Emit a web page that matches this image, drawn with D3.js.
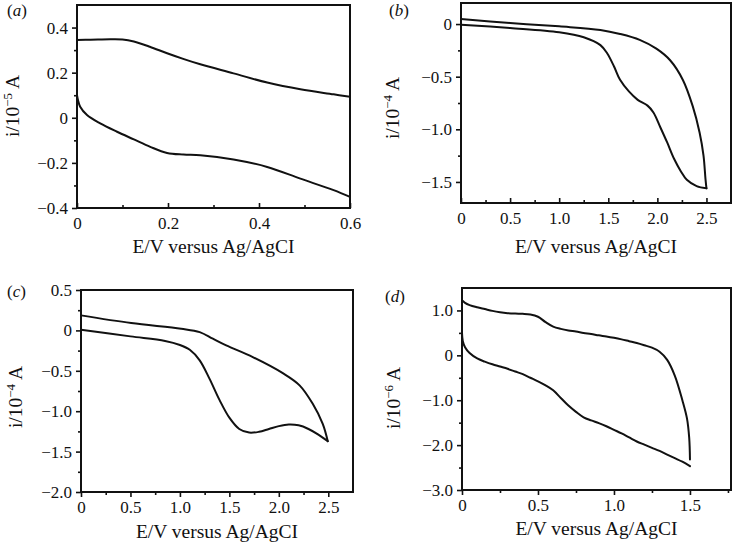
<!DOCTYPE html>
<html>
<head>
<meta charset="utf-8">
<script src="https://cdn.jsdelivr.net/npm/d3@7"></script>
<style>
  html, body { margin: 0; padding: 0; background: #fff; }
  svg { display: block; }
  text { font-family: "Liberation Serif", "Times New Roman", Times, serif; fill: #111; }
</style>
</head>
<body>
<svg id="chart" width="737" height="543"></svg>
<script>
// ---------- DATA ----------
// Panel (a)  i / 10^-5 A
const aUpperX = [0, 0.03, 0.073, 0.1, 0.125, 0.16, 0.198, 0.235, 0.271, 0.344, 0.418, 0.491, 0.564, 0.6];
const aUpperY = [0.345, 0.346, 0.348, 0.347, 0.338, 0.315, 0.286, 0.26, 0.237, 0.197, 0.156, 0.126, 0.104, 0.093];
const aLowerX = [0, 0.002, 0.007, 0.022, 0.051, 0.088, 0.125, 0.161, 0.198, 0.234, 0.271, 0.344, 0.418, 0.491, 0.564, 0.6];
const aLowerY = [0.1, 0.08, 0.049, 0.012, -0.025, -0.062, -0.096, -0.129, -0.156, -0.163, -0.166, -0.185, -0.218, -0.27, -0.321, -0.351];

// Panel (b)  i / 10^-4 A
const bUpperX = [0, 0.5, 1.0, 1.42, 1.62, 1.82, 1.99, 2.13, 2.26, 2.36, 2.43, 2.47, 2.49, 2.5];
const bUpperY = [0.047, 0.01, -0.022, -0.056, -0.094, -0.15, -0.234, -0.344, -0.531, -0.78, -1.03, -1.25, -1.47, -1.56];
const bLowerX = [0, 0.5, 1.0, 1.25, 1.42, 1.49, 1.56, 1.62, 1.71, 1.8, 1.9, 1.96, 2.03, 2.1, 2.17, 2.24, 2.3, 2.4, 2.5];
const bLowerY = [-0.006, -0.038, -0.078, -0.125, -0.2, -0.28, -0.406, -0.53, -0.64, -0.72, -0.775, -0.84, -0.98, -1.125, -1.28, -1.4, -1.48, -1.54, -1.56];

// Panel (c)  i / 10^-4 A
const cUpperX = [0, 0.508, 1.013, 1.2, 1.333, 1.468, 1.737, 2.04, 2.21, 2.343, 2.444, 2.495];
const cUpperY = [0.186, 0.091, 0.021, -0.021, -0.103, -0.186, -0.33, -0.529, -0.68, -0.909, -1.157, -1.372];
const cLowerX = [0, 0.5, 0.85, 1.0, 1.1, 1.2, 1.3, 1.4, 1.5, 1.6, 1.7, 1.8, 1.9, 2.0, 2.1, 2.2, 2.3, 2.4, 2.495];
const cLowerY = [0.008, -0.074, -0.13, -0.18, -0.24, -0.37, -0.6, -0.86, -1.08, -1.22, -1.265, -1.255, -1.22, -1.185, -1.165, -1.175, -1.22, -1.29, -1.372];

// Panel (d)  i / 10^-6 A
const dUpperX = [0, 0.02, 0.05, 0.1, 0.15, 0.2, 0.25, 0.3, 0.35, 0.4, 0.45, 0.5, 0.55, 0.6, 0.65, 0.7, 0.75, 0.8, 0.85, 0.9, 0.95, 1.0, 1.05, 1.1, 1.15, 1.2, 1.25, 1.3, 1.35, 1.4, 1.45, 1.48, 1.495, 1.5];
const dUpperY = [1.23, 1.17, 1.12, 1.07, 1.03, 0.99, 0.96, 0.94, 0.93, 0.925, 0.91, 0.86, 0.74, 0.64, 0.59, 0.555, 0.53, 0.5, 0.475, 0.445, 0.42, 0.39, 0.355, 0.315, 0.275, 0.225, 0.17, 0.08, -0.1, -0.45, -1.0, -1.4, -1.84, -2.32];
const dLowerX = [0, 0.005, 0.02, 0.05, 0.1, 0.15, 0.2, 0.25, 0.3, 0.35, 0.4, 0.45, 0.5, 0.55, 0.6, 0.65, 0.7, 0.75, 0.8, 0.85, 0.9, 0.95, 1.0, 1.05, 1.1, 1.15, 1.2, 1.25, 1.3, 1.35, 1.4, 1.45, 1.5];
const dLowerY = [0.5, 0.32, 0.18, 0.05, -0.07, -0.14, -0.2, -0.25, -0.3, -0.36, -0.42, -0.5, -0.58, -0.67, -0.78, -0.95, -1.12, -1.26, -1.38, -1.45, -1.51, -1.58, -1.66, -1.74, -1.83, -1.92, -1.99, -2.06, -2.13, -2.21, -2.29, -2.37, -2.47];

// Tick values / labels
const aXTicks = [0, 0.2, 0.4, 0.6];
const aXMinor = [0.1, 0.3, 0.5];
const aYTicks = [-0.4, -0.2, 0, 0.2, 0.4];
const aYMinor = [-0.3, -0.1, 0.1, 0.3];
const bXTicks = [0, 0.5, 1.0, 1.5, 2.0, 2.5];
const bXMinor = [0.25, 0.75, 1.25, 1.75, 2.25];
const bYTicks = [-1.5, -1.0, -0.5, 0];
const bYMinor = [-1.25, -0.75, -0.25];
const cXTicks = [0, 0.5, 1.0, 1.5, 2.0, 2.5];
const cXMinor = [0.25, 0.75, 1.25, 1.75, 2.25];
const cYTicks = [-2.0, -1.5, -1.0, -0.5, 0, 0.5];
const cYMinor = [-1.75, -1.25, -0.75, -0.25, 0.25];
const dXTicks = [0, 0.5, 1.0, 1.5];
const dXMinor = [0.25, 0.75, 1.25, 1.75];
const dYTicks = [-3.0, -2.0, -1.0, 0, 1.0];
const dYMinor = [-2.5, -1.5, -0.5, 0.5];

const panelLetters = ["a", "b", "c", "d"];
const yExponents = ["\u22125", "\u22124", "\u22124", "\u22126"];
const xTitle = "E/V versus Ag/AgCI";

// ---------- LAYOUT ----------
const SERIF = "'Liberation Serif', 'Times New Roman', Times, serif";
const fmtLabel = (v, digits) => v === 0 ? "0" : d3.format("." + digits + "f")(v).replace("-", "\u2212");

const panels = [
  { letter: panelLetters[0], exp: yExponents[0], box: [77, 350, 5, 208], xd: [0, 0.6], yd: [-0.4, 0.5],
    xt: aXTicks, xm: aXMinor, yt: aYTicks, ym: aYMinor, xdig: 1, ydig: 1, xIn: true,
    upper: [aUpperX, aUpperY], lower: [aLowerX, aLowerY],
    lab: [7, 16], xTitleY: 253, yTitleX: 19, yTitleY: 106 },
  { letter: panelLetters[1], exp: yExponents[1], box: [461, 731, 3, 203], xd: [0, 2.75], yd: [-1.7, 0.2],
    xt: bXTicks, xm: bXMinor, yt: bYTicks, ym: bYMinor, xdig: 1, ydig: 1, xIn: true,
    upper: [bUpperX, bUpperY], lower: [bLowerX, bLowerY],
    lab: [389, 16], xTitleY: 253, yTitleX: 399, yTitleY: 108 },
  { letter: panelLetters[2], exp: yExponents[2], box: [81, 353, 290, 492], xd: [0, 2.75], yd: [-2.0, 0.5],
    xt: cXTicks, xm: cXMinor, yt: cYTicks, ym: cYMinor, xdig: 1, ydig: 1, xIn: false,
    upper: [cUpperX, cUpperY], lower: [cLowerX, cLowerY],
    lab: [7, 297], xTitleY: 538, yTitleX: 22, yTitleY: 397 },
  { letter: panelLetters[3], exp: yExponents[3], box: [462, 731, 288, 490], xd: [0, 1.77], yd: [-3.0, 1.5],
    xt: dXTicks, xm: dXMinor, yt: dYTicks, ym: dYMinor, xdig: 1, ydig: 1, xIn: false,
    upper: [dUpperX, dUpperY], lower: [dLowerX, dLowerY],
    lab: [385, 302], xTitleY: 535, yTitleX: 400, yTitleY: 398 }
];

const svg = d3.select("#chart");
const FS = 17;
const TFS = 19.5;

function styleAxis(s) {
  s.attr("font-family", SERIF).attr("font-size", FS);
  s.select(".domain").remove();
  s.selectAll("line").attr("stroke", "#111").attr("stroke-width", 1.6);
  s.selectAll("text").attr("fill", "#111");
}

panels.forEach(p => {
  const [L, R, T, B] = p.box;
  const x = d3.scaleLinear().domain(p.xd).range([L, R]);
  const y = d3.scaleLinear().domain(p.yd).range([B, T]);
  const g = svg.append("g");

  // minor ticks
  g.append("g").attr("transform", `translate(0,${B})`)
    .call(d3.axisBottom(x).tickValues(p.xm).tickSize(p.xIn ? -3 : 3).tickFormat(""))
    .call(styleAxis);
  g.append("g").attr("transform", `translate(${L},0)`)
    .call(d3.axisLeft(y).tickValues(p.ym).tickSize(3).tickFormat(""))
    .call(styleAxis);

  // major ticks + labels
  g.append("g").attr("transform", `translate(0,${B})`)
    .call(d3.axisBottom(x).tickValues(p.xt).tickSize(p.xIn ? -5 : 5)
      .tickPadding(p.xIn ? 9 : 4).tickFormat(v => fmtLabel(v, p.xdig)))
    .call(styleAxis);
  g.append("g").attr("transform", `translate(${L},0)`)
    .call(d3.axisLeft(y).tickValues(p.yt).tickSize(5).tickPadding(4)
      .tickFormat(v => fmtLabel(v, p.ydig)))
    .call(styleAxis);

  // curves
  const line = d3.line().x(d => x(d[0])).y(d => y(d[1])).curve(d3.curveCatmullRom.alpha(0.5));
  [p.upper, p.lower].forEach(([xs, ys]) => {
    const pts = xs.map((v, i) => [v, ys[i]]);
    g.append("path").datum(pts).attr("d", line)
      .attr("fill", "none").attr("stroke", "#111").attr("stroke-width", 2)
      .attr("stroke-linejoin", "round").attr("stroke-linecap", "round");
  });

  // frame
  g.append("rect").attr("x", L).attr("y", T).attr("width", R - L).attr("height", B - T)
    .attr("fill", "none").attr("stroke", "#111").attr("stroke-width", 2);

  // panel letter
  const lt = g.append("text").attr("x", p.lab[0]).attr("y", p.lab[1])
    .attr("font-family", SERIF).attr("font-size", FS);
  lt.append("tspan").text("(");
  lt.append("tspan").attr("font-style", "italic").text(p.letter);
  lt.append("tspan").text(")");

  // x title
  g.append("text").attr("x", (L + R) / 2).attr("y", p.xTitleY).attr("text-anchor", "middle")
    .attr("font-family", SERIF).attr("font-size", TFS).text(xTitle);

  // y title
  const yt = g.append("text").attr("transform", `translate(${p.yTitleX},${p.yTitleY}) rotate(-90)`)
    .attr("text-anchor", "middle").attr("font-family", SERIF).attr("font-size", TFS);
  yt.append("tspan").text("i/10");
  yt.append("tspan").attr("font-size", 13).attr("dy", -7).text(p.exp);
  yt.append("tspan").attr("dy", 7).text("\u2009A");
});
</script>
</body>
</html>
